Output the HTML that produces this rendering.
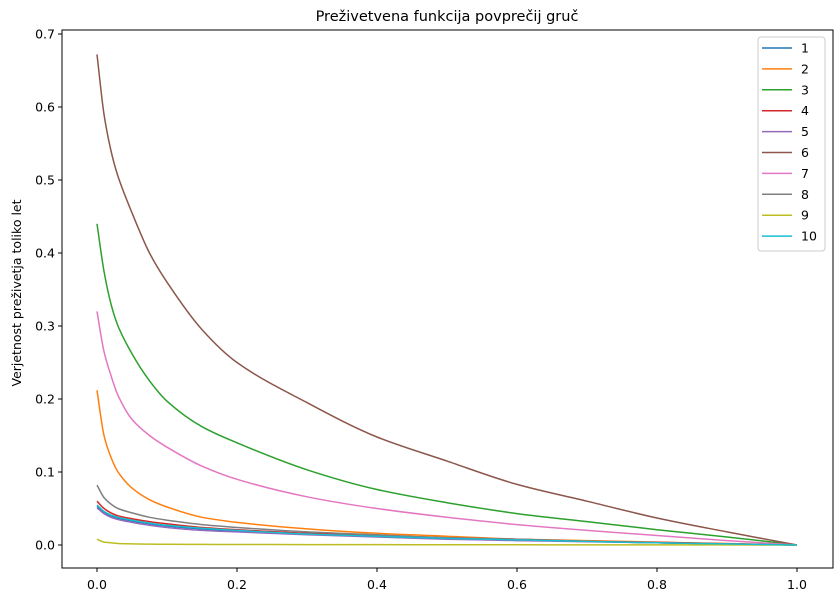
<!DOCTYPE html>
<html><head><meta charset="utf-8"><style>
body{margin:0;background:#fff;}
svg text{font-family:"DejaVu Sans","Liberation Sans",sans-serif;fill:#000;}
</style></head><body>
<svg id="c" width="837" height="598" xmlns="http://www.w3.org/2000/svg">
<rect width="837" height="598" fill="#fff"/>
<text x="447" y="21" font-size="14.5" text-anchor="middle">Preživetvena funkcija povprečij gruč</text>
<text transform="translate(21,293) rotate(-90)" font-size="12.5" text-anchor="middle">Verjetnost preživetja toliko let</text>
<g id="plot"></g>
</svg>
<script>
const xs=[0,0.01,0.02,0.03,0.05,0.075,0.1,0.15,0.2,0.3,0.4,0.5,0.6,0.7,0.8,0.9,1.0];
const s1=[0.053,0.045,0.040,0.037,0.033,0.029,0.026,0.022,0.019,0.015,0.012,0.009,0.007,0.005,0.003,0.0015,0];
const s2=[0.212,0.150,0.120,0.100,0.078,0.062,0.052,0.038,0.031,0.022,0.016,0.012,0.008,0.006,0.004,0.002,0];
const s3=[0.44,0.375,0.33,0.30,0.262,0.225,0.197,0.162,0.14,0.103,0.076,0.058,0.043,0.032,0.021,0.011,0];
const s4=[0.060,0.050,0.044,0.040,0.036,0.032,0.029,0.024,0.021,0.016,0.013,0.010,0.008,0.005,0.0035,0.0018,0];
const s5=[0.051,0.043,0.038,0.035,0.031,0.027,0.024,0.020,0.018,0.014,0.011,0.008,0.006,0.0045,0.003,0.0014,0];
const s6=[0.672,0.59,0.54,0.505,0.455,0.40,0.36,0.295,0.25,0.195,0.148,0.115,0.083,0.06,0.037,0.018,0];
const s7=[0.32,0.265,0.232,0.205,0.172,0.150,0.134,0.108,0.09,0.066,0.05,0.038,0.028,0.02,0.013,0.006,0];
const s8=[0.082,0.065,0.056,0.050,0.044,0.038,0.034,0.028,0.024,0.018,0.014,0.010,0.008,0.005,0.003,0.0015,0];
const s9=[0.008,0.004,0.003,0.002,0.0015,0.0012,0.001,0.0008,0.0007,0.0006,0.0005,0.0004,0.0003,0.0002,0.0001,0.0001,0];
const s10=[0.055,0.046,0.041,0.038,0.034,0.030,0.027,0.023,0.020,0.015,0.012,0.009,0.007,0.005,0.003,0.0015,0];
const seriesNames=["1","2","3","4","5","6","7","8","9","10"];
const seriesData=[s1,s2,s3,s4,s5,s6,s7,s8,s9,s10];
const colors=["#1f77b4","#ff7f0e","#2ca02c","#d62728","#9467bd","#8c564b","#e377c2","#7f7f7f","#bcbd22","#17becf"];
const xTicks=[0,0.2,0.4,0.6,0.8,1.0];
const xTickLabels=["0.0","0.2","0.4","0.6","0.8","1.0"];
const yTicks=[0,0.1,0.2,0.3,0.4,0.5,0.6,0.7];
const yTickLabels=["0.0","0.1","0.2","0.3","0.4","0.5","0.6","0.7"];

const NS="http://www.w3.org/2000/svg";
const L=62,R=833,T=30,B=568;
const X=v=>97+v*700;
const Y=v=>545-v*730;
const g=document.getElementById('plot');
function mk(t,a){const e=document.createElementNS(NS,t);for(const k in a)e.setAttribute(k,a[k]);g.appendChild(e);return e;}
// monotone cubic smooth path
function smooth(px,py){
 const n=px.length,d=[],m=[];
 for(let i=0;i<n-1;i++)d.push((py[i+1]-py[i])/(px[i+1]-px[i]));
 m[0]=d[0];m[n-1]=d[n-2];
 for(let i=1;i<n-1;i++)m[i]=(d[i-1]*d[i]<=0)?0:2/(1/d[i-1]+1/d[i]);
 let s='M'+px[0].toFixed(1)+','+py[0].toFixed(1);
 for(let i=0;i<n-1;i++){const h=(px[i+1]-px[i])/3;
  s+='C'+(px[i]+h).toFixed(1)+','+(py[i]+m[i]*h).toFixed(1)+' '+(px[i+1]-h).toFixed(1)+','+(py[i+1]-m[i+1]*h).toFixed(1)+' '+px[i+1].toFixed(1)+','+py[i+1].toFixed(1);}
 return s;
}
seriesData.forEach((s,i)=>{
 const d=smooth(xs.map(X),s.map(Y));
 const p=mk('path',{d:d,fill:'none',stroke:colors[i],'stroke-width':1.5});
 
 
});
const fr=mk('rect',{x:L,y:T,width:R-L,height:B-T,fill:'none',stroke:'#000','stroke-width':1});


xTicks.forEach((v,i)=>{
 const l=mk('line',{x1:X(v),x2:X(v),y1:B,y2:B+4,stroke:'#000','stroke-width':1});
 
 
 const t=mk('text',{x:X(v),y:B+21,'font-size':12.5,'text-anchor':'middle'});
 t.textContent=xTickLabels[i];
 
 
});
yTicks.forEach((v,i)=>{
 const l=mk('line',{x1:L-4,x2:L,y1:Y(v),y2:Y(v),stroke:'#000','stroke-width':1});
 
 
 const t=mk('text',{x:L-7,y:Y(v)+4.5,'font-size':12.5,'text-anchor':'end'});
 t.textContent=yTickLabels[i];
 
 
});
const lg=mk('rect',{x:758,y:37,width:67,height:214,rx:3,fill:'#fff','fill-opacity':0.8,stroke:'#ccc','stroke-width':1});


seriesNames.forEach((n,i)=>{
 const y=48+i*20.9;
 const l=mk('line',{x1:762,x2:792,y1:y,y2:y,stroke:colors[i],'stroke-width':1.5});
 
 
 const t=mk('text',{x:801,y:y+4.5,'font-size':12.5});
 t.textContent=n;
 
 
});
</script>
</body></html>
